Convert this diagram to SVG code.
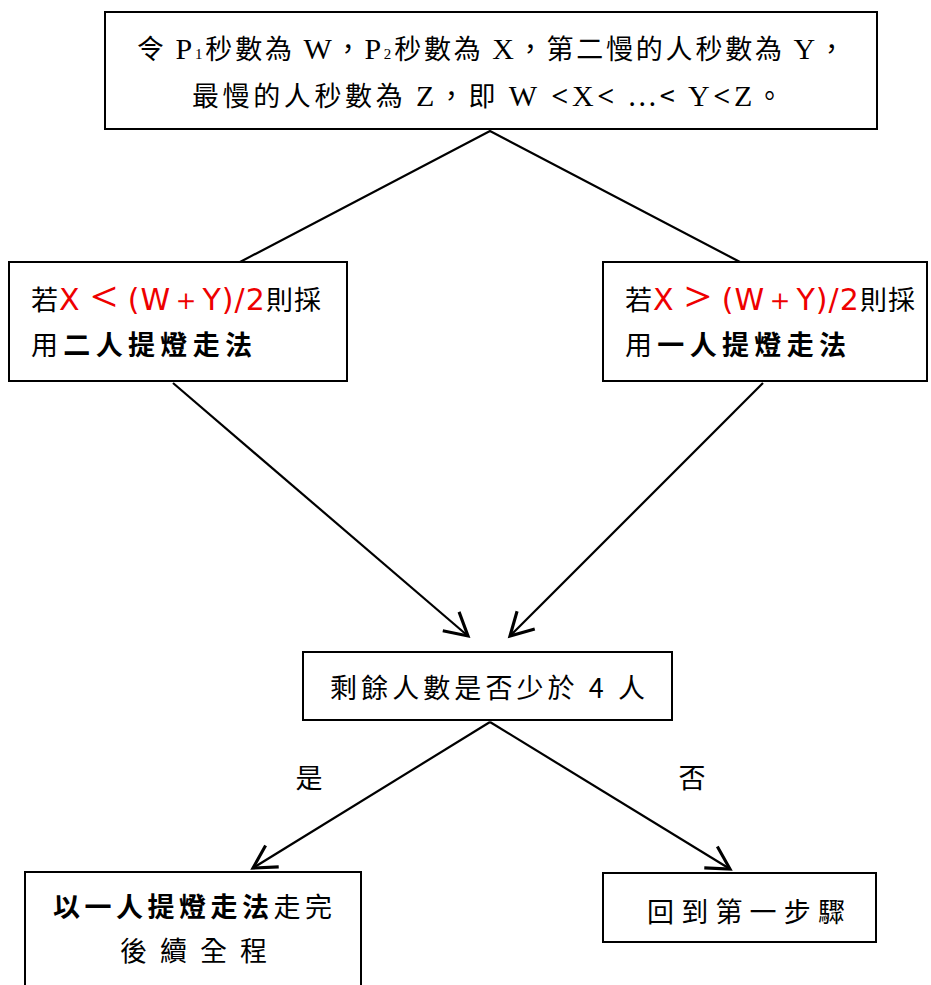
<svg xmlns="http://www.w3.org/2000/svg" width="931" height="985" viewBox="0 0 931 985">
<style>
.box{fill:#fff;stroke:#000;stroke-width:2}
.t{font-family:"Noto Sans CJK TC","Noto Sans CJK SC",sans-serif;font-size:27px;fill:#000}
.lat{font-family:"Liberation Serif",serif;font-size:30px}
.sub{font-family:"Liberation Serif",serif;font-size:15px}
.b{font-weight:bold}
.red{fill:#e00;font-family:"DejaVu Sans","Liberation Sans",sans-serif;font-size:30px}
.cmp{font-size:46px}
.ln{stroke:#000;stroke-width:2.2;fill:none}
</style>
<defs>
<marker id="arr" markerUnits="userSpaceOnUse" markerWidth="30" markerHeight="30" viewBox="-20 -12 24 24" refX="0" refY="0" orient="auto">
<path d="M-18,-10 L0,0 L-18,10" fill="none" stroke="#000" stroke-width="2.5"/>
</marker>
</defs>
<rect width="931" height="985" fill="#fff"/>
<g id="connectors">
<path class="ln" d="M240,262 L490,131 L740,262"/>
<path class="ln" d="M173,383 L468,636" marker-end="url(#arr)"/>
<path class="ln" d="M763,383 L510,636" marker-end="url(#arr)"/>
<path class="ln" d="M490,722 L253,868" marker-end="url(#arr)"/>
<path class="ln" d="M490,722 L730,869" marker-end="url(#arr)"/>
<text class="t" x="309" y="788" text-anchor="middle">是</text>
<text class="t" x="692" y="788" text-anchor="middle">否</text>
</g>
<g id="n1">
<rect class="box" x="105" y="12" width="772" height="117"/>
<text class="t" x="137" y="59" textLength="708" lengthAdjust="spacing">令 <tspan class="lat">P</tspan><tspan class="sub">1</tspan>秒數為 <tspan class="lat">W</tspan>，<tspan class="lat">P</tspan><tspan class="sub">2</tspan>秒數為 <tspan class="lat">X</tspan>，第二慢的人秒數為 <tspan class="lat">Y</tspan>，</text>
<text class="t" x="192" y="106" textLength="591" lengthAdjust="spacing">最慢的人秒數為 <tspan class="lat">Z</tspan>，即 <tspan class="lat">W </tspan><tspan class="b lat">&lt;</tspan><tspan class="lat">X</tspan><tspan class="b lat">&lt;</tspan> …&lt; <tspan class="lat">Y</tspan><tspan class="b lat">&lt;</tspan><tspan class="lat">Z</tspan>。</text>
</g>
<g id="n2">
<rect class="box" x="9" y="262" width="338" height="119"/>
<text class="t" x="31" y="310" textLength="290" lengthAdjust="spacing">若<tspan class="red">X<tspan class="cmp">＜</tspan>(W＋Y)/2</tspan>則採</text>
<text class="t" x="31" y="355" textLength="221" lengthAdjust="spacing">用<tspan class="b">二人提燈走法</tspan></text>
</g>
<g id="n3">
<rect class="box" x="603" y="262" width="324" height="119"/>
<text class="t" x="625" y="310" textLength="290" lengthAdjust="spacing">若<tspan class="red">X<tspan class="cmp">＞</tspan>(W＋Y)/2</tspan>則採</text>
<text class="t" x="625" y="355" textLength="221" lengthAdjust="spacing">用<tspan class="b">一人提燈走法</tspan></text>
</g>
<g id="n4">
<rect class="box" x="303" y="652" width="369" height="68"/>
<text class="t" x="330" y="698" textLength="315" lengthAdjust="spacing">剩餘人數是否少於 4 人</text>
</g>
<g id="n5">
<rect class="box" x="25" y="872" width="336" height="120"/>
<text class="t" x="53" y="917" textLength="279" lengthAdjust="spacing"><tspan class="b">以一人提燈走法</tspan>走完</text>
<text class="t" x="120" y="961" textLength="147" lengthAdjust="spacing">後續全程</text>
</g>
<g id="n6">
<rect class="box" x="603" y="873" width="273" height="69"/>
<text class="t" x="647" y="922" textLength="198" lengthAdjust="spacing">回到第一步驟</text>
</g>
</svg>
